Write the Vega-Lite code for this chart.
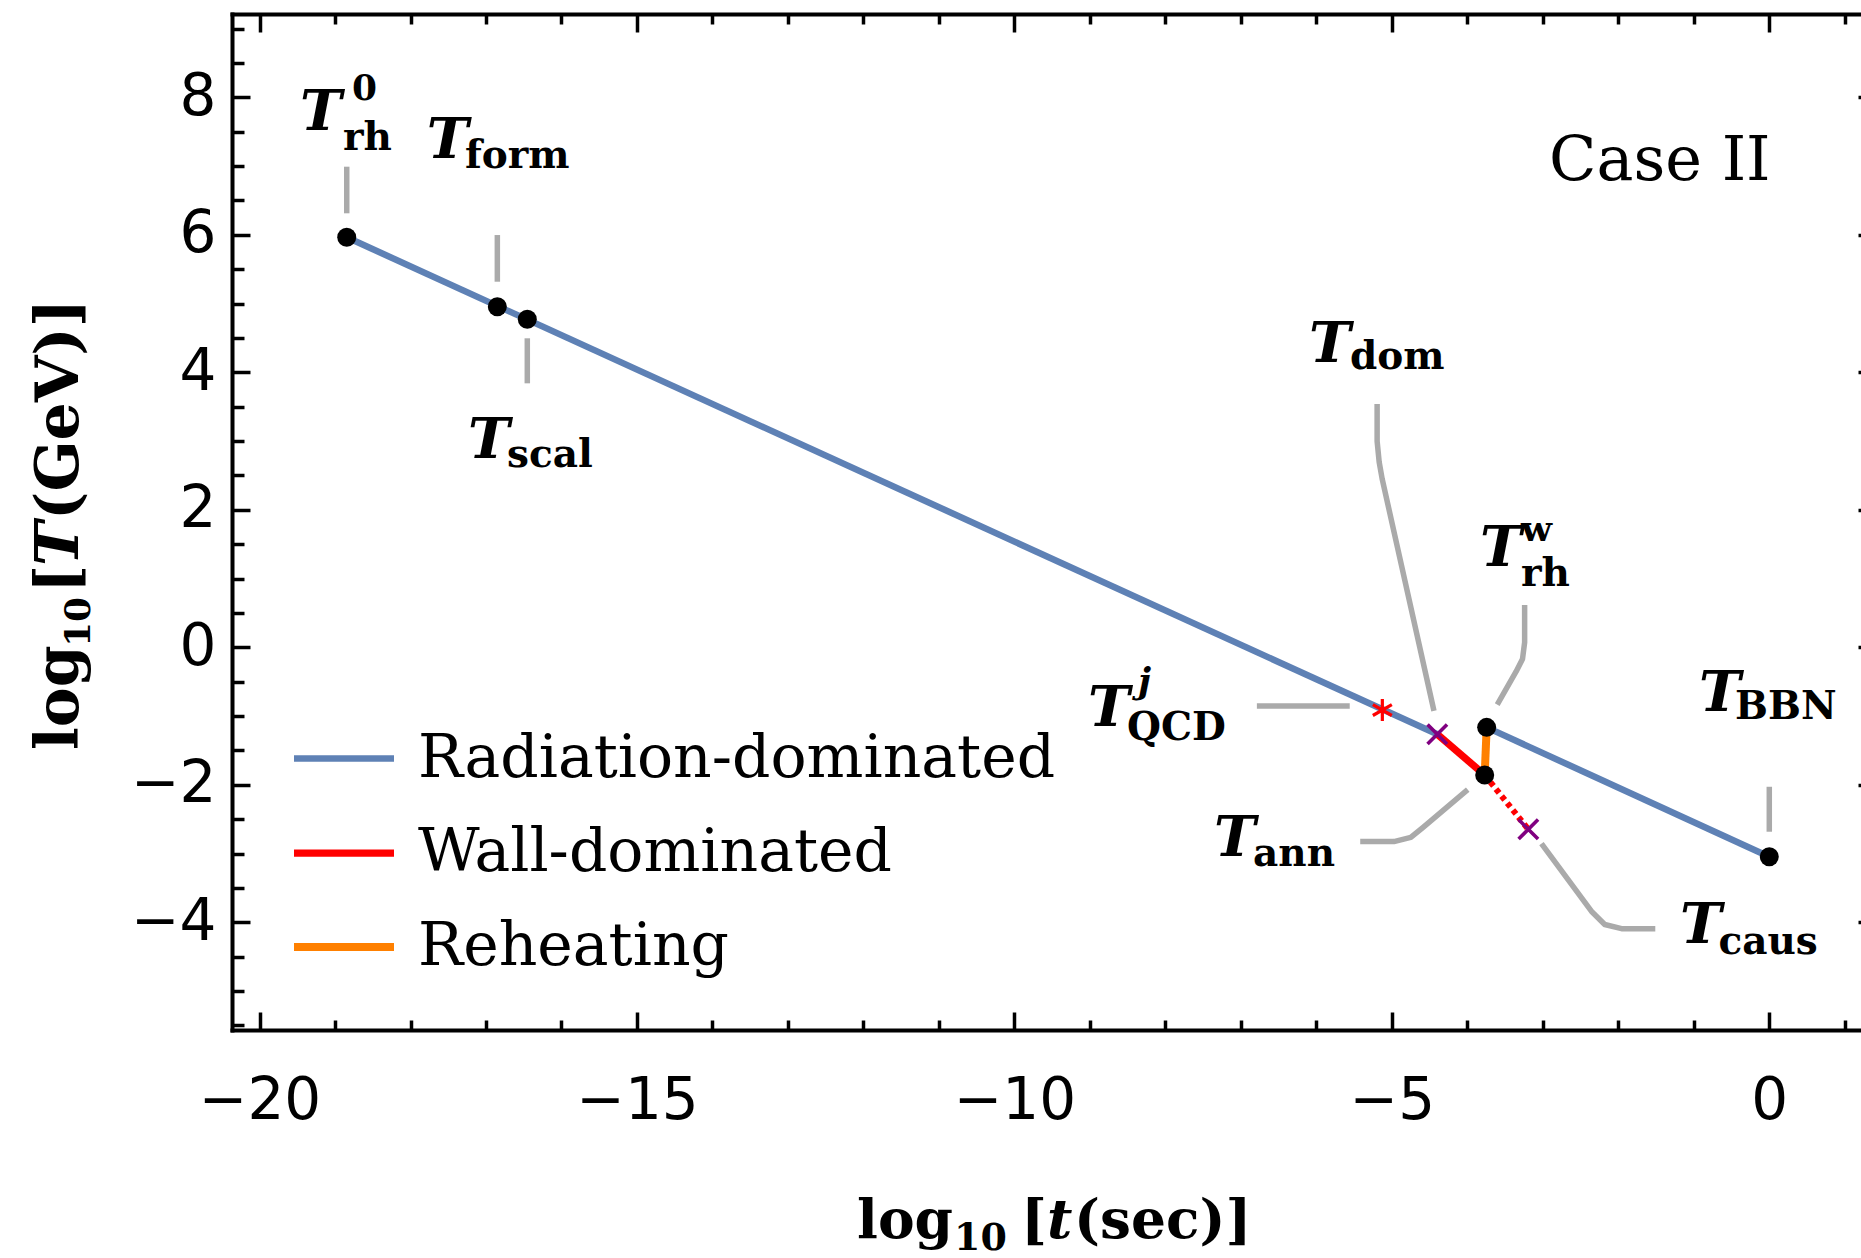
{
  "$schema": "https://vega.github.io/schema/vega-lite/v6.json",
  "width": 1629,
  "height": 1016,
  "autosize": "none",
  "padding": {"left": 232, "top": 14, "right": 0, "bottom": 228},
  "background": "white",
  "config": {"view": {"stroke": null}},
  "datasets": {
    "curves": [
      {"phase": "Radiation-dominated", "seg": "r1", "ord": 1, "logt": -18.845, "logT": 5.964},
      {"phase": "Radiation-dominated", "seg": "r1", "ord": 2, "logt": -4.398, "logT": -1.265},
      {"phase": "Wall-dominated", "seg": "w1", "ord": 1, "logt": -4.398, "logT": -1.265},
      {"phase": "Wall-dominated", "seg": "w1", "ord": 2, "logt": -3.770, "logT": -1.857},
      {"phase": "Reheating", "seg": "h1", "ord": 1, "logt": -3.770, "logT": -1.857},
      {"phase": "Reheating", "seg": "h1", "ord": 2, "logt": -3.744, "logT": -1.164},
      {"phase": "Radiation-dominated", "seg": "r2", "ord": 1, "logt": -3.744, "logT": -1.164},
      {"phase": "Radiation-dominated", "seg": "r2", "ord": 2, "logt": 0.0, "logT": -3.046}
    ],
    "walls_after_ann": [
      {"ord": 1, "logt": -3.770, "logT": -1.857},
      {"ord": 2, "logt": -3.192, "logT": -2.647}
    ],
    "events": [
      {"event": "rh0", "kind": "dot", "logt": -18.845, "logT": 5.964},
      {"event": "form", "kind": "dot", "logt": -16.850, "logT": 4.954},
      {"event": "scal", "kind": "dot", "logt": -16.453, "logT": 4.771},
      {"event": "rhw", "kind": "dot", "logt": -3.744, "logT": -1.164},
      {"event": "ann", "kind": "dot", "logt": -3.770, "logT": -1.857},
      {"event": "BBN", "kind": "dot", "logt": 0.0, "logT": -3.046},
      {"event": "QCD", "kind": "star", "logt": -5.126, "logT": -0.912},
      {"event": "dom", "kind": "cross", "logt": -4.398, "logT": -1.265},
      {"event": "caus", "kind": "cross", "logt": -3.192, "logT": -2.647}
    ],
    "leaders": [
      {"id": "rh0", "ord": 1, "logt": -18.845, "logT": 6.991},
      {"id": "rh0", "ord": 2, "logt": -18.845, "logT": 6.313},
      {"id": "form", "ord": 1, "logt": -16.850, "logT": 5.997},
      {"id": "form", "ord": 2, "logt": -16.850, "logT": 5.318},
      {"id": "scal", "ord": 1, "logt": -16.453, "logT": 4.495},
      {"id": "scal", "ord": 2, "logt": -16.453, "logT": 3.840},
      {"id": "dom", "ord": 1, "logt": -5.195, "logT": 3.540},
      {"id": "dom", "ord": 2, "logt": -5.195, "logT": 2.998},
      {"id": "dom", "ord": 3, "logt": -5.168, "logT": 2.695},
      {"id": "dom", "ord": 4, "logt": -5.129, "logT": 2.454},
      {"id": "dom", "ord": 5, "logt": -4.442, "logT": -0.924},
      {"id": "rhw", "ord": 1, "logt": -3.241, "logT": 0.614},
      {"id": "rhw", "ord": 2, "logt": -3.241, "logT": 0.071},
      {"id": "rhw", "ord": 3, "logt": -3.269, "logT": -0.170},
      {"id": "rhw", "ord": 4, "logt": -3.353, "logT": -0.351},
      {"id": "rhw", "ord": 5, "logt": -3.604, "logT": -0.833},
      {"id": "QCD", "ord": 1, "logt": -6.788, "logT": -0.852},
      {"id": "QCD", "ord": 2, "logt": -5.558, "logT": -0.852},
      {"id": "ann", "ord": 1, "logt": -3.995, "logT": -2.071},
      {"id": "ann", "ord": 2, "logt": -4.582, "logT": -2.614},
      {"id": "ann", "ord": 3, "logt": -4.749, "logT": -2.765},
      {"id": "ann", "ord": 4, "logt": -4.973, "logT": -2.825},
      {"id": "ann", "ord": 5, "logt": -5.419, "logT": -2.825},
      {"id": "caus", "ord": 1, "logt": -3.018, "logT": -2.855},
      {"id": "caus", "ord": 2, "logt": -2.347, "logT": -3.850},
      {"id": "caus", "ord": 3, "logt": -2.180, "logT": -4.032},
      {"id": "caus", "ord": 4, "logt": -1.957, "logT": -4.092},
      {"id": "caus", "ord": 5, "logt": -1.510, "logT": -4.092},
      {"id": "BBN", "ord": 1, "logt": 0.0, "logT": -2.028},
      {"id": "BBN", "ord": 2, "logt": 0.0, "logT": -2.682}
    ],
    "labels": [
      {"part": "T", "text": "T", "logt": -19.463, "logT": 7.524},
      {"part": "T", "text": "T", "logt": -17.785, "logT": 7.113},
      {"part": "T", "text": "T", "logt": -17.238, "logT": 2.753},
      {"part": "T", "text": "T", "logt": -6.097, "logT": 4.150},
      {"part": "T", "text": "T", "logt": -3.832, "logT": 1.187},
      {"part": "T", "text": "T", "logt": -9.025, "logT": -1.145},
      {"part": "T", "text": "T", "logt": -7.356, "logT": -3.036},
      {"part": "T", "text": "T", "logt": -1.183, "logT": -4.301},
      {"part": "T", "text": "T", "logt": -0.931, "logT": -0.927},
      {"part": "sub", "text": "rh", "logt": -18.894, "logT": 7.233},
      {"part": "sub", "text": "form", "logt": -17.278, "logT": 6.967},
      {"part": "sub", "text": "scal", "logt": -16.721, "logT": 2.623},
      {"part": "sub", "text": "dom", "logt": -5.554, "logT": 4.048},
      {"part": "sub", "text": "rh", "logt": -3.289, "logT": 0.886},
      {"part": "sub", "text": "QCD", "logt": -8.508, "logT": -1.348},
      {"part": "sub", "text": "ann", "logt": -6.839, "logT": -3.187},
      {"part": "sub", "text": "caus", "logt": -0.673, "logT": -4.454},
      {"part": "sub", "text": "BBN", "logt": -0.454, "logT": -1.043},
      {"part": "sup", "text": "0", "logt": -18.775, "logT": 7.960},
      {"part": "sup", "text": "w", "logt": -3.289, "logT": 1.546},
      {"part": "supi", "text": "j", "logt": -8.363, "logT": -0.660},
      {"part": "case", "text": "Case II", "logt": -2.918, "logT": 6.797},
      {"part": "title", "axis": "x", "text": "log", "logt": -12.085, "logT": -8.592},
      {"part": "titlesub", "axis": "x", "text": "10", "logt": -10.80, "logT": -8.767},
      {"part": "title", "axis": "x", "text": "[", "logt": -9.913, "logT": -8.592},
      {"part": "titleT", "axis": "x", "text": "t", "logt": -9.568, "logT": -8.592},
      {"part": "title", "axis": "x", "text": "(sec)]", "logt": -9.210, "logT": -8.592},
      {"part": "title", "axis": "y", "text": "log", "logt": -22.404, "logT": -1.494},
      {"part": "titlesub", "axis": "y", "text": "10", "logt": -22.245, "logT": 0.004},
      {"part": "title", "axis": "y", "text": "[", "logt": -22.404, "logT": 0.790},
      {"part": "titleT", "axis": "y", "text": "T", "logt": -22.404, "logT": 1.183},
      {"part": "title", "axis": "y", "text": "(GeV)]", "logt": -22.404, "logT": 1.852}
    ]
  },
  "encoding": {
    "x": {"field": "logt", "type": "quantitative", "scale": {"domain": [-20.365, 1.215], "nice": false, "zero": false}, "axis": null},
    "y": {"field": "logT", "type": "quantitative", "scale": {"domain": [-5.566, 9.212], "nice": false, "zero": false}, "axis": null}
  },
  "layer": [
    {
      "data": {"name": "leaders"},
      "mark": {"type": "line", "color": "#aaaaaa", "strokeWidth": 5.5, "strokeCap": "butt", "strokeJoin": "round"},
      "encoding": {
        "x": {
          "field": "logt", "type": "quantitative",
          "scale": {"domain": [-20.365, 1.215], "nice": false, "zero": false},
          "axis": {
            "orient": "bottom", "title": null, "grid": false,
            "values": [-20, -19, -18, -17, -16, -15, -14, -13, -12, -11, -10, -9, -8, -7, -6, -5, -4, -3, -2, -1, 0, 1],
            "format": "d",
            "domainColor": "black", "domainWidth": 4, "domainCap": "square",
            "tickColor": "black", "tickWidth": 3.5,
            "tickSize": {"condition": {"test": "datum.value % 5 === 0", "value": -18}, "value": -10},
            "labelExpr": "datum.value % 5 === 0 ? datum.label : ''",
            "labelFont": "DejaVu Sans", "labelFontSize": 58, "labelColor": "black",
            "labelPadding": 60, "labelOverlap": false, "labelFlush": false, "labelBound": false
          }
        },
        "y": {
          "field": "logT", "type": "quantitative",
          "scale": {"domain": [-5.566, 9.212], "nice": false, "zero": false},
          "axis": {
            "orient": "left", "title": null, "grid": false,
            "values": [-4, -2, 0, 2, 4, 6, 8],
            "format": "d",
            "domainColor": "black", "domainWidth": 4, "domainCap": "square",
            "tickColor": "black", "tickWidth": 3.5, "tickSize": -18,
            "labelFont": "DejaVu Sans", "labelFontSize": 58, "labelColor": "black",
            "labelPadding": 34, "labelOverlap": false, "labelFlush": false, "labelBound": false
          }
        },
        "detail": {"field": "id"},
        "order": {"field": "ord"}
      }
    },
    {
      "data": {"name": "curves"},
      "mark": {"type": "line", "strokeCap": "butt"},
      "encoding": {
        "x": {
          "field": "logt", "type": "quantitative",
          "scale": {"domain": [-20.365, 1.215], "nice": false, "zero": false},
          "axis": {
            "orient": "top", "title": null, "grid": false, "labels": false,
            "values": [-20, -15, -10, -5, 0],
            "domainColor": "black", "domainWidth": 4, "domainCap": "square",
            "tickColor": "black", "tickWidth": 3.5, "tickSize": -18
          }
        },
        "y": {
          "field": "logT", "type": "quantitative",
          "scale": {"domain": [-5.566, 9.212], "nice": false, "zero": false},
          "axis": {
            "orient": "right", "title": null, "grid": false, "labels": false, "domain": false, "offset": 15,
            "values": [-4, -2, 0, 2, 4, 6, 8],
            "tickColor": "black", "tickWidth": 3.5, "tickSize": -18
          }
        },
        "color": {
          "field": "phase", "type": "nominal",
          "scale": {"domain": ["Radiation-dominated", "Wall-dominated", "Reheating"], "range": ["#5e81b5", "#ff0000", "#ff8000"]},
          "legend": {
            "orient": "none", "legendX": 58, "legendY": 691, "title": null,
            "symbolType": "stroke", "symbolSize": 10000, "symbolStrokeWidth": 7,
            "labelFont": "DejaVu Serif", "labelFontSize": 60, "labelColor": "black",
            "labelOffset": 20, "rowPadding": 10, "padding": 0, "labelLimit": 0
          }
        },
        "strokeWidth": {
          "field": "phase", "type": "ordinal",
          "scale": {"domain": ["Radiation-dominated", "Wall-dominated", "Reheating"], "range": [6.5, 8, 5.5]},
          "legend": null
        },
        "detail": {"field": "seg"},
        "order": {"field": "ord"}
      }
    },
    {
      "data": {"name": "walls_after_ann"},
      "mark": {"type": "line", "color": "#ff0000", "strokeWidth": 6, "strokeDash": [5, 4], "strokeCap": "butt"},
      "encoding": {
        "x": {
          "field": "logt", "type": "quantitative",
          "scale": {"domain": [-20.365, 1.215], "nice": false, "zero": false},
          "axis": {
            "orient": "top", "title": null, "grid": false, "labels": false, "domain": false,
            "values": [-19, -18, -17, -16, -14, -13, -12, -11, -9, -8, -7, -6, -4, -3, -2, -1, 1],
            "tickColor": "black", "tickWidth": 3.5, "tickSize": -10
          }
        },
        "y": {
          "field": "logT", "type": "quantitative",
          "scale": {"domain": [-5.566, 9.212], "nice": false, "zero": false},
          "axis": {
            "orient": "left", "title": null, "grid": false, "labels": false, "domain": false,
            "values": [-5.5, -5, -4.5, -3.5, -3, -2.5, -1.5, -1, -0.5, 0.5, 1, 1.5, 2.5, 3, 3.5, 4.5, 5, 5.5, 6.5, 7, 7.5, 8.5, 9],
            "tickColor": "black", "tickWidth": 3.5, "tickSize": -12
          }
        },
        "order": {"field": "ord"}
      }
    },
    {
      "data": {"name": "events"},
      "transform": [{"filter": "datum.kind === 'star'"}],
      "mark": {"type": "point", "shape": "M0,-1L0,1M-0.866,-0.5L0.866,0.5M-0.866,0.5L0.866,-0.5", "filled": false, "color": "#ff0000", "strokeWidth": 3.2, "size": 480, "opacity": 1}
    },
    {
      "data": {"name": "events"},
      "transform": [{"filter": "datum.kind === 'cross'"}],
      "mark": {"type": "point", "shape": "M-1,-1L1,1M-1,1L1,-1", "filled": false, "color": "#800080", "strokeWidth": 3.6, "size": 380, "opacity": 1}
    },
    {
      "data": {"name": "events"},
      "transform": [{"filter": "datum.kind === 'dot'"}],
      "mark": {"type": "point", "shape": "circle", "filled": true, "color": "black", "size": 360, "opacity": 1, "strokeWidth": 0}
    },
    {
      "data": {"name": "labels"},
      "transform": [{"filter": "datum.part === 'T'"}],
      "mark": {"type": "text", "font": "DejaVu Serif", "fontWeight": "bold", "fontStyle": "italic", "fontSize": 56, "align": "left", "baseline": "alphabetic", "color": "black"},
      "encoding": {"text": {"field": "text"}}
    },
    {
      "data": {"name": "labels"},
      "transform": [{"filter": "datum.part === 'sub'"}],
      "mark": {"type": "text", "font": "DejaVu Serif", "fontWeight": "bold", "fontSize": 39, "align": "left", "baseline": "alphabetic", "color": "black"},
      "encoding": {"text": {"field": "text"}}
    },
    {
      "data": {"name": "labels"},
      "transform": [{"filter": "datum.part === 'sup'"}],
      "mark": {"type": "text", "font": "DejaVu Serif", "fontWeight": "bold", "fontSize": 36, "align": "left", "baseline": "alphabetic", "color": "black"},
      "encoding": {"text": {"field": "text"}}
    },
    {
      "data": {"name": "labels"},
      "transform": [{"filter": "datum.part === 'supi'"}],
      "mark": {"type": "text", "font": "DejaVu Serif", "fontWeight": "bold", "fontStyle": "italic", "fontSize": 36, "align": "left", "baseline": "alphabetic", "color": "black"},
      "encoding": {"text": {"field": "text"}}
    },
    {
      "data": {"name": "labels"},
      "transform": [{"filter": "datum.part === 'case'"}],
      "mark": {"type": "text", "font": "DejaVu Serif", "fontSize": 62, "align": "left", "baseline": "alphabetic", "color": "black"},
      "encoding": {"text": {"field": "text"}}
    },
    {
      "data": {"name": "labels"},
      "transform": [{"filter": "datum.part === 'title'"}],
      "mark": {"type": "text", "font": "DejaVu Serif", "fontWeight": "bold", "align": "left", "baseline": "alphabetic", "color": "black"},
      "encoding": {
        "text": {"field": "text"},
        "size": {"condition": {"test": "datum.axis === 'y'", "value": 60}, "value": 55},
        "angle": {"condition": {"test": "datum.axis === 'y'", "value": 270}, "value": 0}
      }
    },
    {
      "data": {"name": "labels"},
      "transform": [{"filter": "datum.part === 'titlesub'"}],
      "mark": {"type": "text", "font": "DejaVu Serif", "fontWeight": "bold", "align": "left", "baseline": "alphabetic", "color": "black"},
      "encoding": {
        "text": {"field": "text"},
        "size": {"condition": {"test": "datum.axis === 'y'", "value": 36}, "value": 38},
        "angle": {"condition": {"test": "datum.axis === 'y'", "value": 270}, "value": 0}
      }
    },
    {
      "data": {"name": "labels"},
      "transform": [{"filter": "datum.part === 'titleT'"}],
      "mark": {"type": "text", "font": "DejaVu Serif", "fontWeight": "bold", "fontStyle": "italic", "align": "left", "baseline": "alphabetic", "color": "black"},
      "encoding": {
        "text": {"field": "text"},
        "size": {"condition": {"test": "datum.axis === 'y'", "value": 60}, "value": 55},
        "angle": {"condition": {"test": "datum.axis === 'y'", "value": 270}, "value": 0}
      }
    }
  ],
  "resolve": {"axis": {"x": "independent", "y": "independent"}}
}
